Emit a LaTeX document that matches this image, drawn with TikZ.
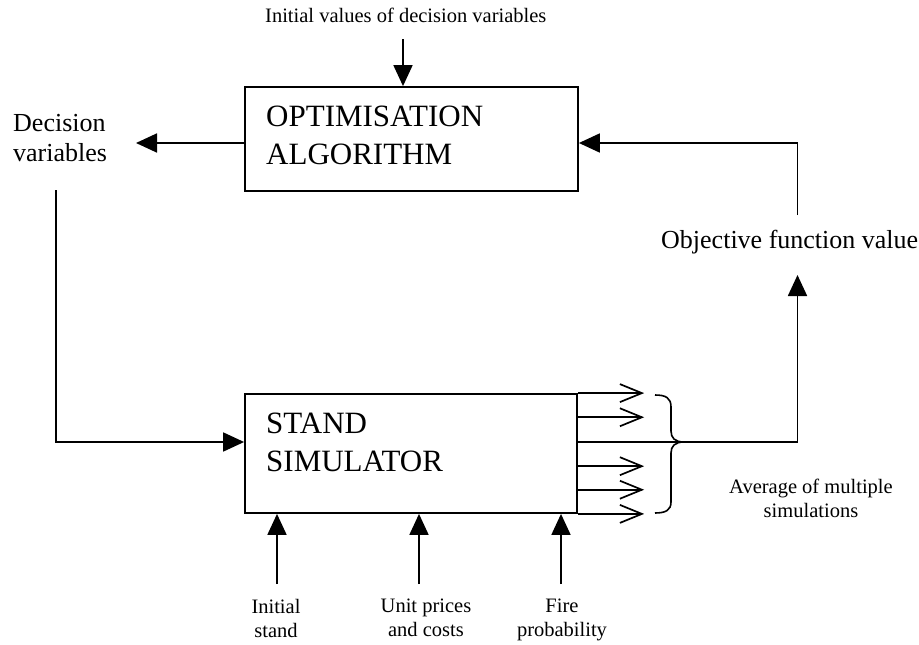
\documentclass[tikz,border=0pt]{standalone}
\usepackage{fontspec}
\setmainfont{Liberation Serif}
\usetikzlibrary{arrows.meta,calc}
\begin{document}
\begin{tikzpicture}[x=1pt,y=-1pt,
  conn/.style={line width=1.8pt},
  arr/.style={-{Triangle[length=21pt,width=19pt]}},
  chev/.style={line width=1.7pt, miter limit=20},
  box/.style={draw, line width=1.8pt, inner sep=0pt},
  boxtext/.style={font=\fontsize{31}{37.5}\selectfont, inner sep=0pt, align=left, anchor=north west},
  midtext/.style={font=\fontsize{26}{30}\selectfont, inner sep=0pt},
  smalltext/.style={font=\fontsize{20.5}{24}\selectfont, inner sep=0pt, align=center}]
\useasboundingbox (0,0) rectangle (919,645);

% boxes
\node[box, minimum width=333pt, minimum height=104pt] (opt) at (411.5,139) {};
\node[boxtext] (optlbl) at (266,106) {OPTIMISATION\\ALGORITHM};
\node[box, minimum width=332pt, minimum height=119pt] (sim) at (411,453.5) {};
\node[boxtext] (simlbl) at (266,413) {STAND\\SIMULATOR};

% labels
\node[smalltext, anchor=base west] (init) at (265,22) {Initial values of decision variables};
\node[midtext, anchor=north west, align=left] (dv) at (13,114.5) {Decision\\variables};
\node[midtext, anchor=base west] (obj) at (661,248) {Objective function value};
\node[smalltext, anchor=north] (avg) at (811,479) {Average of multiple\\simulations};
\node[smalltext, anchor=north] (lstand) at (276,599) {Initial\\stand};
\node[smalltext, anchor=north] (lprice) at (426,599) {Unit prices\\and costs};
\node[smalltext, anchor=north] (lfire) at (562,599) {Fire\\probability};

% free ends
\coordinate (inittail) at (403,39);
\coordinate (dvtip) at (136,143);
\coordinate (dvtail) at (56,190);
\coordinate (objtop) at (797.5,215);
\coordinate (objtip) at (797.5,275);
\coordinate (standtail) at (277,584);
\coordinate (pricetail) at (419,584);
\coordinate (firetail) at (561,584);

% connectors
\draw[conn,arr] (inittail) -- (inittail |- opt.north);
\draw[conn,arr] ([yshift=-4pt]opt.west) -- (dvtip);
\draw[conn,arr] (dvtail) |- ([yshift=11.5pt]sim.west);
\draw[conn,arr] (objtop) |- ([yshift=-4pt]opt.east);
\draw[conn,arr] ($(sim.north east)!0.403!(sim.south east)$) -| (objtip);
\draw[conn,arr] (standtail) -- (standtail |- sim.south);
\draw[conn,arr] (pricetail) -- (pricetail |- sim.south);
\draw[conn,arr] (firetail) -- (firetail |- sim.south);

% multiple simulation outputs (open chevron heads)
\foreach \f in {0,0.2,0.605,0.8,1} {
  \coordinate (o) at ($(sim.north east)!\f!(sim.south east)$);
  \draw[conn] (o) -- ++(64,0);
  \draw[chev] ($(o)+(42,-9)$) -- ($(o)+(64,0)$) -- ($(o)+(42,9)$);
}

% brace
\draw[line width=1.6pt] (655,395) .. controls (666,395) and (671,398) .. (671,407)
  -- (671,431) .. controls (671,438) and (675,442) .. (684,442)
  .. controls (675,442) and (671,446) .. (671,453)
  -- (671,502) .. controls (671,510) and (666,513) .. (655,513);
\end{tikzpicture}
\end{document}
